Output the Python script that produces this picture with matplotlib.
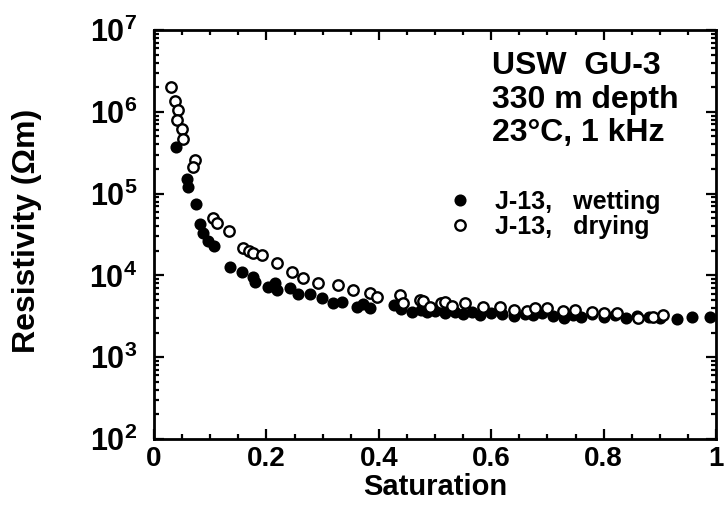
import math
import matplotlib
matplotlib.use("Agg")
import matplotlib.pyplot as plt
from matplotlib.ticker import FixedLocator, FuncFormatter, LogLocator, NullFormatter, MultipleLocator

FONT = 'Liberation Sans'
plt.rcParams['font.family'] = [FONT, 'DejaVu Sans']
plt.rcParams['font.weight'] = 'bold'
plt.rcParams['mathtext.fontset'] = 'custom'
plt.rcParams['mathtext.bf'] = FONT + ':bold'
plt.rcParams['mathtext.rm'] = FONT + ':bold'

# ---- data ----
wet_s = [0.039, 0.058, 0.060, 0.075, 0.082, 0.088, 0.096, 0.107, 0.135, 0.156, 0.176, 0.180,
         0.203, 0.215, 0.218, 0.242, 0.256, 0.278, 0.299, 0.319, 0.335, 0.361, 0.372, 0.384,
         0.427, 0.440, 0.459, 0.475, 0.486, 0.50, 0.518, 0.535, 0.55, 0.565, 0.58, 0.60, 0.62,
         0.64, 0.66, 0.675, 0.69, 0.71, 0.73, 0.745, 0.76, 0.78, 0.80, 0.82, 0.84, 0.86, 0.88,
         0.90, 0.931, 0.957, 0.989]
wet_r = [3.7e5, 1.5e5, 1.2e5, 7.4e4, 4.2e4, 3.3e4, 2.6e4, 2.3e4, 1.25e4, 1.1e4, 9.5e3, 8.3e3,
         7.2e3, 8.1e3, 6.6e3, 7e3, 6e3, 6e3, 5.3e3, 4.6e3, 4.7e3, 4.1e3, 4.5e3, 4.0e3,
         4.3e3, 3.9e3, 3.6e3, 3.8e3, 3.6e3, 3.7e3, 3.5e3, 3.6e3, 3.4e3, 3.6e3, 3.3e3, 3.5e3, 3.4e3,
         3.2e3, 3.4e3, 3.3e3, 3.5e3, 3.2e3, 3.0e3, 3.3e3, 3.1e3, 3.4e3, 3.1e3, 3.3e3, 3.0e3, 3.2e3, 3.1e3,
         3.0e3, 2.9e3, 3.1e3, 3.1e3]
dry_s = [0.030, 0.037, 0.043, 0.041, 0.050, 0.052, 0.073, 0.070, 0.105, 0.112, 0.133, 0.159,
         0.169, 0.177, 0.192, 0.219, 0.245, 0.265, 0.292, 0.327, 0.354, 0.385, 0.397, 0.438,
         0.443, 0.473, 0.479, 0.491, 0.51, 0.518, 0.53, 0.553, 0.585, 0.615, 0.64, 0.663, 0.678,
         0.699, 0.728, 0.749, 0.779, 0.80, 0.823, 0.861, 0.888, 0.906]
dry_r = [2e6, 1.35e6, 1.05e6, 8e5, 6.2e5, 4.7e5, 2.6e5, 2.1e5, 5.1e4, 4.4e4, 3.5e4, 2.15e4,
         2e4, 1.87e4, 1.8e4, 1.4e4, 1.1e4, 9.3e3, 8.1e3, 7.6e3, 6.6e3, 6.1e3, 5.5e3, 5.8e3,
         4.6e3, 5e3, 4.8e3, 4.1e3, 4.6e3, 4.7e3, 4.2e3, 4.6e3, 4.1e3, 4.1e3, 3.8e3, 3.7e3, 4.0e3,
         4.0e3, 3.7e3, 3.8e3, 3.6e3, 3.5e3, 3.5e3, 3.0e3, 3.1e3, 3.3e3]
x_ticks = [0, 0.2, 0.4, 0.6, 0.8, 1]
x_ticklabels = ['0', '0.2', '0.4', '0.6', '0.8', '1']
y_decades = [2, 3, 4, 5, 6, 7]
info_lines = ['USW  GU-3', '330 m depth', '23°C, 1 kHz']
legend_labels = ['J-13,   wetting', 'J-13,   drying']

fig = plt.figure(figsize=(7.24, 5.13), dpi=100)
ax = fig.add_axes([0.2127, 0.1442, 0.989 - 0.2127, 0.9415 - 0.1442])

ax.plot(wet_s, wet_r, 'o', ms=7.5, mfc='black', mec='black', mew=1.2, label=legend_labels[0], zorder=3)
ax.plot(dry_s, dry_r, 'o', ms=7.5, mfc='white', mec='black', mew=1.7, label=legend_labels[1], zorder=4)

ax.set_yscale('log')
ax.set_xlim(0, 1)
ax.set_ylim(10 ** y_decades[0], 10 ** y_decades[-1])

ax.xaxis.set_major_locator(FixedLocator(x_ticks))
ax.set_xticklabels(x_ticklabels)
ax.xaxis.set_minor_locator(MultipleLocator(0.05))
ax.yaxis.set_major_locator(FixedLocator([10.0 ** d for d in y_decades]))
ax.yaxis.set_major_formatter(FuncFormatter(lambda v, p: r'$\mathbf{10^{%d}}$' % round(math.log10(v))))
ax.yaxis.set_minor_locator(LogLocator(base=10, subs=range(2, 10), numticks=20))
ax.yaxis.set_minor_formatter(NullFormatter())

ax.tick_params(which='both', direction='in', top=True, right=True, width=1.6)
ax.tick_params(which='major', length=7)
ax.tick_params(which='minor', length=3.5)
ax.tick_params(axis='x', which='major', labelsize=20, pad=5)
ax.tick_params(axis='y', which='major', labelsize=22, pad=12)
for lab in ax.get_xticklabels():
    lab.set_fontweight('bold')
for sp in ax.spines.values():
    sp.set_linewidth(2.0)

ax.set_xlabel('Saturation', fontsize=21, fontweight='bold', labelpad=1)
ax.set_ylabel('Resistivity (Ωm)', fontsize=23, fontweight='bold')
ax.yaxis.set_label_coords(-0.199, 0.51)

info_y = [66, 100, 133]
for yy, line in zip(info_y, info_lines):
    fig.text(0.679, 1 - yy / 513, line, fontsize=23, fontweight='bold',
             ha='left', va='center')

leg = ax.legend(loc='upper left', bbox_to_anchor=(0.531, 0.609), frameon=False,
                prop={'size': 18, 'weight': 'bold'}, handlelength=0.6, handletextpad=1.1,
                labelspacing=0.05, borderpad=0, borderaxespad=0)

fig.savefig('out.png', dpi=100)
